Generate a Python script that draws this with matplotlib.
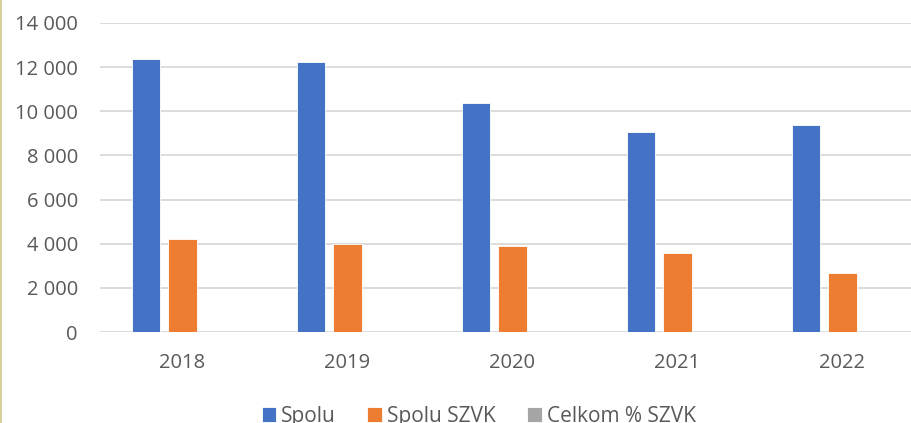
import matplotlib.pyplot as plt
import numpy as np
from matplotlib.ticker import FuncFormatter

years = ["2018", "2019", "2020", "2021", "2022"]
spolu = [12360, 12230, 10390, 9040, 9400]
spolu_szvk = [4225, 3990, 3880, 3590, 2690]
celkom_pct = [0.34, 0.33, 0.37, 0.40, 0.29]

series_names = ["Spolu", "Spolu SZVK", "Celkom % SZVK"]
colors = ["#4472C4", "#ED7D31", "#A5A5A5"]
text_color = "#595959"
grid_color = "#D9D9D9"

plt.rcParams["font.family"] = ["Open Sans", "DejaVu Sans"]

fig = plt.figure(figsize=(9.12, 4.23), dpi=100)
ax = fig.add_axes([100 / 912, 1 - 332 / 423, 825 / 912, 309 / 423])

x = np.arange(len(years))
bar_w = 0.17
step = 0.221
for i, (vals, name, col) in enumerate(zip([spolu, spolu_szvk, celkom_pct], series_names, colors)):
    ax.bar(x + (i - 1) * step, vals, width=bar_w, color=col, label=name,
           edgecolor="#FFFFFF", linewidth=0.6, zorder=3)

ax.set_xlim(-0.5, 4.5)
ax.set_ylim(0, 14000)
ax.set_yticks(range(0, 14001, 2000))
ax.yaxis.set_major_formatter(FuncFormatter(lambda v, p: f"{int(v):,}".replace(",", " ")))
ax.set_xticks(x)
ax.set_xticklabels(years)
ax.grid(axis="y", color=grid_color, linewidth=1.3, zorder=0)
for s in ax.spines.values():
    s.set_visible(False)
ax.tick_params(length=0, labelsize=14.5, colors=text_color)
ax.tick_params(axis="y", pad=16)
ax.tick_params(axis="x", pad=15)

fig.legend(loc="center", bbox_to_anchor=(0.525, 1 - 416 / 423), ncol=3, frameon=False,
           fontsize=15, labelcolor=text_color, handlelength=0.7, handleheight=0.7,
           handletextpad=0.25, columnspacing=1.5)

# thin left border
fig.add_artist(plt.Line2D([0.001, 0.001], [0, 1], color="#D6CF9E", linewidth=1.5))

fig.savefig("out.png", dpi=100)
